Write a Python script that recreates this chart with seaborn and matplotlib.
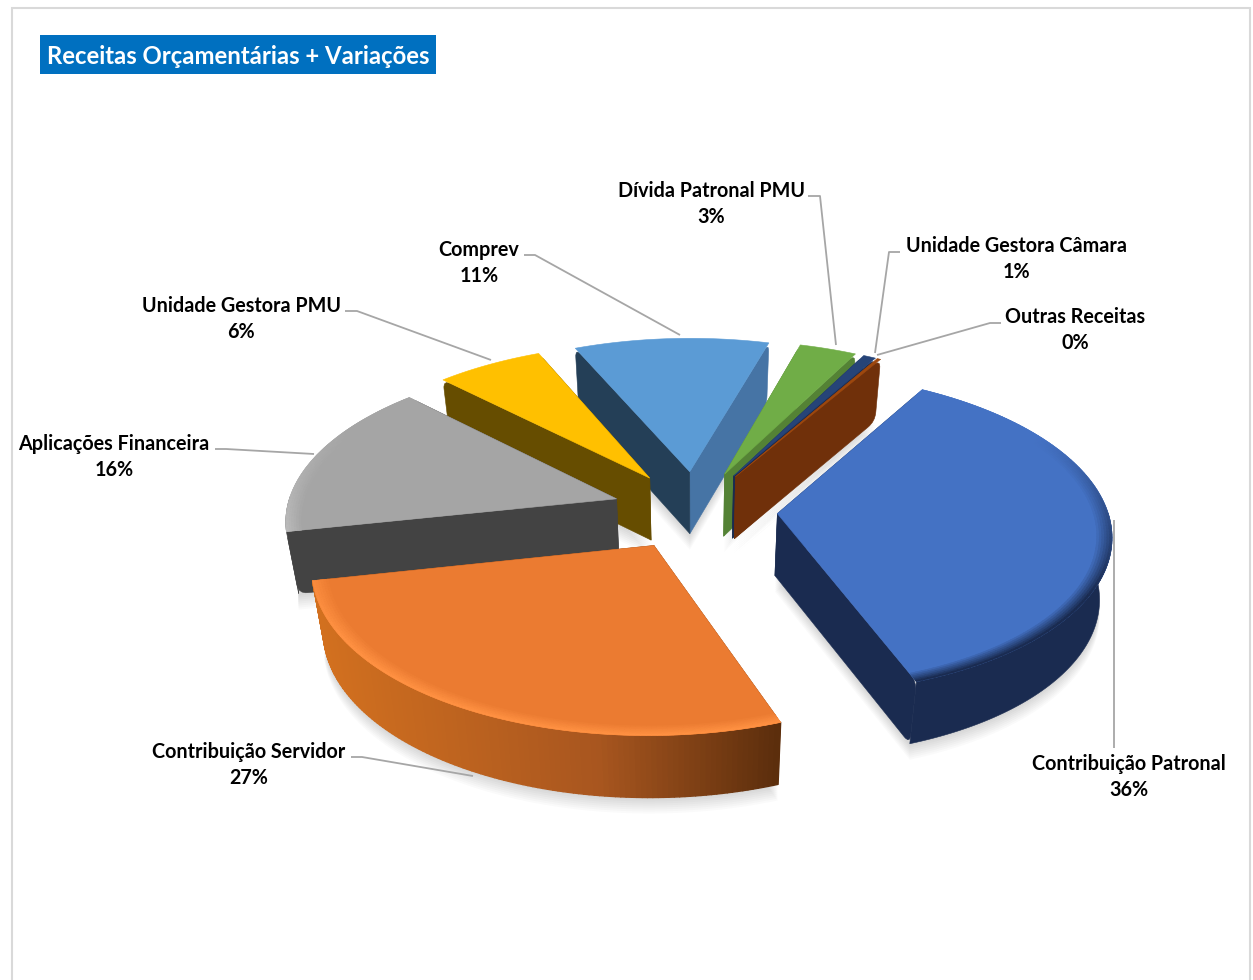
import numpy as np
import matplotlib
matplotlib.use("Agg")
import matplotlib.pyplot as plt
from matplotlib.collections import PolyCollection
from matplotlib.colors import to_rgb
from matplotlib.patches import PathPatch, Polygon, Rectangle
from matplotlib.path import Path
import seaborn as sns

title = "Receitas Orçamentárias + Variações"
categories = ["Contribuição Patronal", "Contribuição Servidor", "Aplicações Financeira",
              "Unidade Gestora PMU", "Comprev", "Dívida Patronal PMU",
              "Unidade Gestora Câmara", "Outras Receitas"]
values = [35.9, 27.3, 15.8, 6.0, 10.9, 3.2, 0.7, 0.2]
percent_labels = ["36%", "27%", "16%", "6%", "11%", "3%", "1%", "0%"]

top_colors = ["#4472C4", "#EB7B31", "#A5A5A5", "#FFC000", "#5B9BD5", "#70AD47", "#264478", "#9E480E"]
start_wall = ["#1A2B50", "#7A3E12", "#434343", "#664D00", "#243F57", "#548235", "#1A2B50", "#70300A"]
end_wall = ["#1A2B50", "#7A3E12", "#434343", "#664D00", "#4674A5", "#548235", "#1A2B50", "#70300A"]
bevel_colors = ["#1A2B50", "#FF9142", "#C4C4C4", None, None, None, None, None]
draw_order = [4, 5, 6, 7, 3, 2, 0, 1]

# label centre x, first line y, leader points
label_x = [1129, 249, 114, 241, 479, 711, 1016, 1075]
label_y = [764, 752, 444, 306, 250, 191, 246, 317]
leaders = [[(1114, 520), (1114, 748)],
           [(351, 757), (362, 757), (473, 776)],
           [(215, 449), (226, 449), (314, 454)],
           [(345, 311), (357, 311), (491, 360)],
           [(524, 255), (535, 255), (680, 335)],
           [(808, 196), (820, 196), (836, 345)],
           [(900, 252), (889, 252), (875, 353)],
           [(1001, 323), (990, 323), (877, 355)]]

sns.set_theme(style="white")
plt.rcParams["font.family"] = ["Lato", "DejaVu Sans"]
palette = sns.color_palette(top_colors)

# ground plane to screen, pixels
cx, cy, sx, sy, persp, thick = 695, 510, 330, 158, 0.12, 62


def project(x, y, z=0.0):
    w = 1 + persp * y
    return np.column_stack([cx + sx * x / w * (1 - 0.03 * z), cy - sy * y / w + thick * z])


def rounded(pts, corners, rad=9):
    verts, codes = [], []
    n = len(pts)
    for i in range(n):
        p = np.array(pts[i])
        if i in corners:
            a = p + (pts[i - 1] - p) / np.linalg.norm(pts[i - 1] - p) * rad
            b = p + (pts[(i + 1) % n] - p) / np.linalg.norm(pts[(i + 1) % n] - p) * rad
            verts += [a, p, b]
            codes += [Path.LINETO, Path.CURVE3, Path.CURVE3]
        else:
            verts.append(p)
            codes.append(Path.LINETO)
    codes[0] = Path.MOVETO
    verts.append(verts[0])
    codes.append(Path.CLOSEPOLY)
    return Path(verts, codes)


def mix(c1, c2, t):
    return tuple(np.array(to_rgb(c1)) * (1 - t) + np.array(to_rgb(c2)) * t)


fig = plt.figure(figsize=(12.53, 9.8), dpi=100)
ax = fig.add_axes([0, 0, 1, 1])

wedges, _ = ax.pie(values, explode=[0.25] * len(values), startangle=59.4, counterclock=False)
geom = [(w.center, np.radians(w.theta1), np.radians(w.theta2)) for w in wedges]
for w in wedges:
    w.remove()

ax.set_aspect("auto")
ax.set_xlim(0, 1253)
ax.set_ylim(980, 0)
ax.axis("off")

ax.add_patch(Rectangle((12, 8), 1238, 990, fc="white", ec="#D9D9D9", lw=1.5, zorder=0))
ax.add_patch(Rectangle((40, 35), 396, 39, fc="#0070C0", ec="none", zorder=1))
ax.text(238, 56, title, color="white", fontsize=17.2, fontweight="bold", ha="center", va="center", zorder=2)


def outline(i, z):
    (c0, c1), t1, t2 = geom[i]
    t = np.linspace(t1, t2, 80)
    xs = np.r_[c0, c0 + np.cos(t)]
    ys = np.r_[c1, c1 + np.sin(t)]
    return project(xs, ys, z)


# soft shadow under the slices
for i in range(len(values)):
    base = outline(i, 1)
    for dy in range(2, 18, 2):
        ax.add_patch(Polygon(base + [0, dy], fc="black", ec="none", alpha=0.02, zorder=3))

z = 4
for i in draw_order:
    (c0, c1), t1, t2 = geom[i]

    # cut faces
    apex_top = project(np.array([c0]), np.array([c1]), 0)[0]
    apex_bot = project(np.array([c0]), np.array([c1]), 1)[0]
    for ang, col in ((t1, end_wall[i]), (t2, start_wall[i])):
        ct = project(np.array([c0 + np.cos(ang)]), np.array([c1 + np.sin(ang)]), 0)[0]
        cb = project(np.array([c0 + np.cos(ang)]), np.array([c1 + np.sin(ang)]), 1)[0]
        ax.add_patch(PathPatch(rounded([apex_top, ct, cb, apex_bot], {1, 2}), fc=col, ec=col, lw=0.4, zorder=z))

    # outer wall, only the part facing the viewer
    t = np.linspace(t1, t2, 121)
    tw = t[np.sin(t) < 0.02]
    if len(tw) > 1:
        top = project(c0 + np.cos(tw), c1 + np.sin(tw), 0)
        bot = project(c0 + np.cos(tw), c1 + np.sin(tw), 1)
        if i == 1:
            # orange wall runs light to dark from left to right
            quads = [[top[k], top[k + 1], bot[k + 1], bot[k]] for k in range(len(tw) - 1)]
            xm = np.array([q[0][0] for q in quads])
            u = np.clip((xm - 320) / 460, 0, 1)
            cols = [mix("#D2701F", "#A8561F", v / 0.6) if v < 0.6 else mix("#A8561F", "#5A2D0C", (v - 0.6) / 0.4) for v in u]
            ax.add_collection(PolyCollection(quads, facecolors=cols, edgecolors=cols, linewidths=1.0, zorder=z))
        else:
            ax.add_patch(Polygon(np.r_[top, bot[::-1]], fc=start_wall[i], ec=start_wall[i], lw=0.4, zorder=z))

    # top surface
    ax.add_patch(Polygon(outline(i, 0), fc=palette[i], ec=palette[i], lw=0.4, zorder=z + 1))

    # bevel along the front of the rim
    if bevel_colors[i]:
        radii = np.linspace(0.955, 1.0, 7)
        bq, bc = [], []
        for j in range(len(radii) - 1):
            a = project(c0 + radii[j] * np.cos(t), c1 + radii[j] * np.sin(t), 0)
            b = project(c0 + radii[j + 1] * np.cos(t), c1 + radii[j + 1] * np.sin(t), 0)
            for k in range(len(t) - 1):
                weight = np.clip(0.5 - np.sin(t[k]), 0, 1) * (j + 1) / (len(radii) - 1)
                bq.append([a[k], a[k + 1], b[k + 1], b[k]])
                bc.append(mix(top_colors[i], bevel_colors[i], weight))
        ax.add_collection(PolyCollection(bq, facecolors=bc, edgecolors=bc, linewidths=0.4, zorder=z + 1))
    z += 2

for i, name in enumerate(categories):
    ax.text(label_x[i], label_y[i], name, fontsize=14.2, fontweight="bold", color="black",
            ha="center", va="center", zorder=50)
    ax.text(label_x[i], label_y[i] + 26, percent_labels[i], fontsize=14.2, fontweight="bold", color="black",
            ha="center", va="center", zorder=50)
    pts = np.array(leaders[i])
    ax.plot(pts[:, 0], pts[:, 1], color="#A6A6A6", lw=1.3, zorder=49, solid_capstyle="butt")

plt.savefig("out.png", dpi=100)
plt.close()
